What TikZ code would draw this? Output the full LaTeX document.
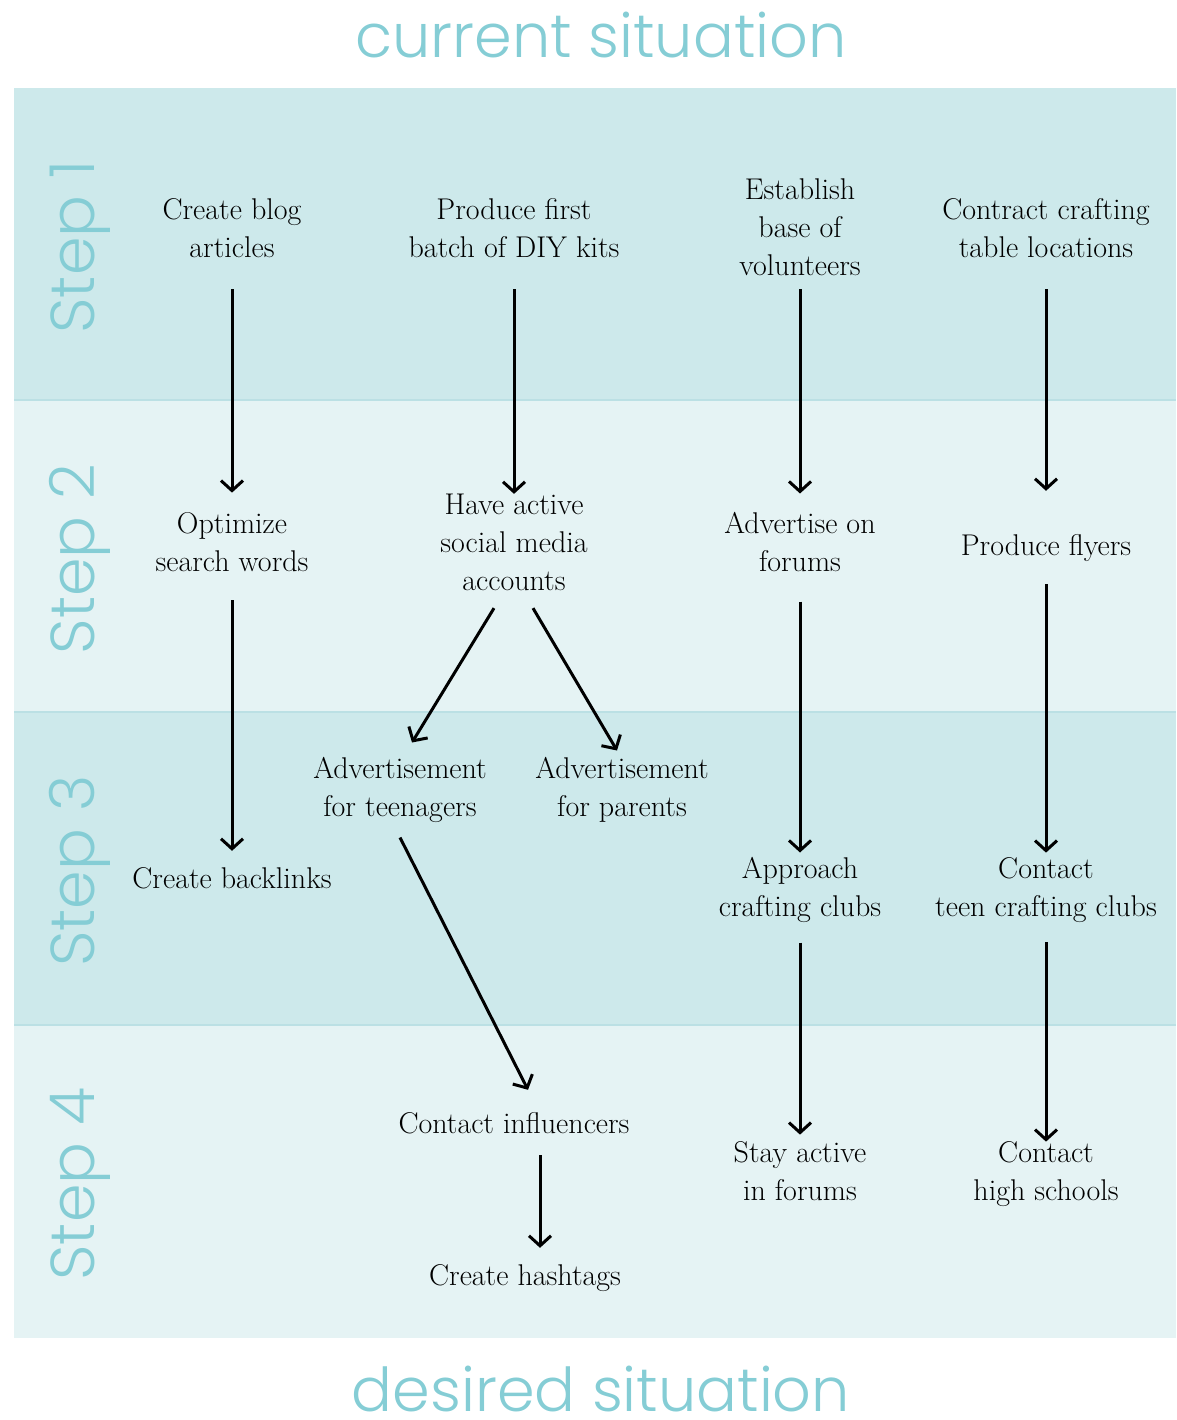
\documentclass[tikz,border=0pt]{standalone}
\usepackage{fontspec}
\newfontfamily\headfont{Poppins}[UprightFont={* Light}]
\usetikzlibrary{arrows.meta}

\definecolor{tyrkys}{HTML}{85CDD5}
\definecolor{pasTmavy}{HTML}{CDE9EB}
\definecolor{pasSvetly}{HTML}{E5F3F4}
\definecolor{pasOkraj}{HTML}{BBE0E4}

\begin{document}
\begin{tikzpicture}[x=1pt, y=-1pt,
        ukol/.style={align=center, inner sep=0pt, font=\fontsize{30}{38}\selectfont,
            execute at begin node=\strut, execute at end node=\strut},
        sipka/.style={-{Straight Barb[length=10pt,width=22pt]}, line width=3pt},
        nadpis/.style={text=tyrkys, anchor=base, font=\headfont\fontsize{60.5}{70}\selectfont},
        krok/.style={nadpis, rotate=90, font=\headfont\fontsize{62}{70}\selectfont}]
        \useasboundingbox (0,0) rectangle (1176,1420);

        % pásy jednotlivých kroků
        \fill[pasTmavy] (14,88) rectangle (1176,400);
        \fill[pasSvetly] (14,400) rectangle (1176,712);
        \fill[pasTmavy] (14,712) rectangle (1176,1025);
        \fill[pasSvetly] (14,1025) rectangle (1176,1338);
        \foreach \y in {400,712,1025}
            \draw[pasOkraj, line width=1.5pt] (14,\y) -- (1176,\y);

        % nadpisy
        \node[nadpis] (nyni) at (601,58) {current situation};
        \node[nadpis] (cil) at (601,1411) {desired situation};
        \foreach \i/\y in {1/247, 2/559, 3/871, 4/1184}
            \node[krok] (krok\i) at (94,\y) {Step \i};

        % úkoly
        \node[ukol] (blog) at (232,234) {Create blog\\articles};
        \node[ukol] (sada) at (514,234) {Produce first\\batch of DIY kits};
        \node[ukol] (dobrovolnici) at (800,233) {Establish\\base of\\volunteers};
        \node[ukol] (mista) at (1046,234) {Contract crafting\\table locations};

        \node[ukol] (slova) at (232,548) {Optimize\\search words};
        \node[ukol] (site) at (514,548) {Have active\\social media\\accounts};
        \node[ukol] (fora) at (800,548) {Advertise on\\forums};
        \node[ukol] (letaky) at (1046,548) {Produce flyers};

        \node[ukol] (teenageri) at (400,793) {Advertisement\\for teenagers};
        \node[ukol] (rodice) at (622,793) {Advertisement\\for parents};
        \node[ukol] (odkazy) at (232,881) {Create backlinks};
        \node[ukol] (kluby) at (800,893) {Approach\\crafting clubs};
        \node[ukol] (teenkluby) at (1046,893) {Contact\\teen crafting clubs};

        \node[ukol] (influenceri) at (514,1126) {Contact influencers};
        \node[ukol] (aktivita) at (800,1177) {Stay active\\in forums};
        \node[ukol] (skoly) at (1046,1177) {Contact\\high schools};
        \node[ukol] (hashtagy) at (525,1278) {Create hashtags};

        % šipky
        \draw[sipka, shorten <=20pt, shorten >=20pt] (blog) -- (slova);
        \draw[sipka, shorten <=17pt, shorten >=11pt] (slova) -- (odkazy);
        \draw[sipka, shorten <=20pt] (sada) -- (site);
        \draw[sipka, shorten <=2pt, shorten >=19pt] (dobrovolnici) -- (fora);
        \draw[sipka, shorten <=18pt, shorten >=5pt] (fora) -- (kluby);
        \draw[sipka, shorten <=14pt, shorten >=7pt] (kluby) -- (aktivita);
        \draw[sipka, shorten <=20pt, shorten >=38pt] (mista) -- (letaky);
        \draw[sipka, shorten <=17pt, shorten >=5pt] (letaky) -- (teenkluby);
        \draw[sipka, shorten <=14pt] (teenkluby) -- (skoly);

        \draw[sipka] ([xshift=-20pt,yshift=-6pt]site.south) -- ([xshift=12pt,yshift=15pt]teenageri.north);
        \draw[sipka] ([xshift=19pt,yshift=-6pt]site.south) -- ([xshift=-5pt,yshift=7pt]rodice.north);
        \draw[sipka] ([yshift=-9pt]teenageri.south) -- ([xshift=14pt,yshift=17pt]influenceri.north);
        \draw[sipka] ([xshift=26pt,yshift=-10pt]influenceri.south) -- ([xshift=15pt,yshift=11pt]hashtagy.north);
\end{tikzpicture}
\end{document}
